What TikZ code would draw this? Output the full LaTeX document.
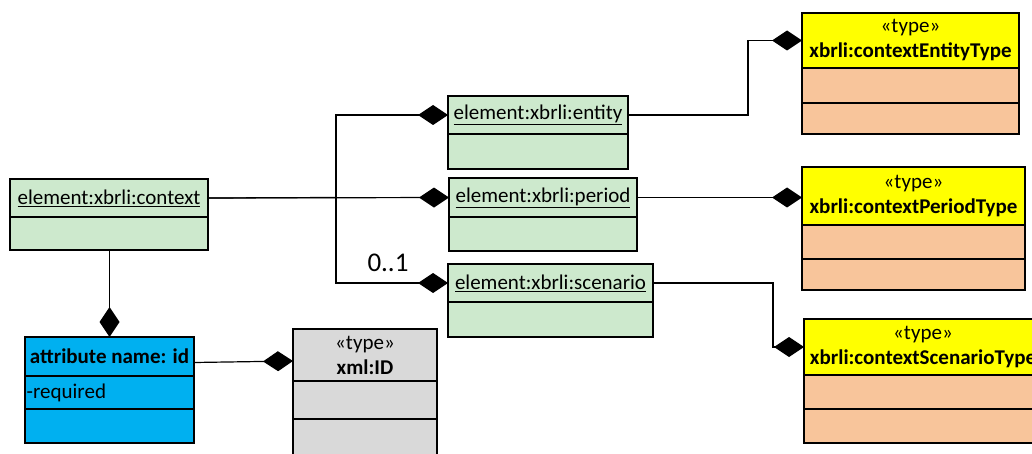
\documentclass[tikz,border=0pt]{standalone}
\usepackage{fontspec}
\setmainfont{Carlito}
\usetikzlibrary{arrows.meta}
\definecolor{elgreen}{HTML}{CDE9CD}
\definecolor{attrblue}{HTML}{00B0F0}
\definecolor{typegray}{HTML}{D9D9D9}
\definecolor{typeyellow}{HTML}{FFFF00}
\definecolor{typepeach}{HTML}{F8C59B}
\tikzset{
  cbox/.style={draw=black, line width=1.8pt, anchor=north west, outer sep=0pt, inner sep=0pt, font=\fontsize{21}{25}\selectfont, align=center},
  greenc/.style={cbox, fill=elgreen},
  bluec/.style={cbox, fill=attrblue},
  grayc/.style={cbox, fill=typegray},
  yellowc/.style={cbox, fill=typeyellow},
  peachc/.style={cbox, fill=typepeach},
  comp/.style={draw=black, line width=1.2pt, -{Diamond[length=30pt,width=20pt]}},
  plain/.style={draw=black, line width=1.2pt},
}
\begin{document}
\begin{tikzpicture}[x=1pt,y=-1pt]
\useasboundingbox (0,0) rectangle (1032,454);
\clip (0,0) rectangle (1032,454);
% context
\node[greenc, minimum width=198pt, minimum height=38pt] (ctx) at (10,179) {\underline{element:xbrli:context}};
\node[greenc, minimum width=198pt, minimum height=33pt] (ctxb) at (ctx.south west) {};
% attribute
\node[bluec, minimum width=169pt, minimum height=39pt] (attr) at (25,337) {\textbf{attribute name: id}};
\node[bluec, minimum width=169pt, minimum height=33pt] (attr1) at (attr.south west) {};
\node[bluec, minimum width=169pt, minimum height=34pt] (attr2) at (attr1.south west) {};
\node[anchor=west, inner sep=0pt, font=\fontsize{21}{25}\selectfont] (attrtxt) at ([xshift=1.5pt]attr1.west) {-required};
% xml:ID
\node[grayc, minimum width=144pt, minimum height=52pt] (xid) at (293,329) {«type»\\\textbf{xml:ID}};
\node[grayc, minimum width=144pt, minimum height=38pt] (xid1) at (xid.south west) {};
\node[grayc, minimum width=144pt, minimum height=41pt] (xid2) at (xid1.south west) {};
% entity
\node[greenc, minimum width=180pt, minimum height=38pt] (ent) at (448,96) {\underline{element:xbrli:entity}};
\node[greenc, minimum width=180pt, minimum height=35pt] (entb) at (ent.south west) {};
% period
\node[greenc, minimum width=188pt, minimum height=39pt] (per) at (449,178) {\underline{element:xbrli:period}};
\node[greenc, minimum width=188pt, minimum height=34pt] (perb) at (per.south west) {};
% scenario
\node[greenc, minimum width=205pt, minimum height=38pt] (scn) at (448,264) {\underline{element:xbrli:scenario}};
\node[greenc, minimum width=205pt, minimum height=35pt] (scnb) at (scn.south west) {};
% entity type
\node[yellowc, minimum width=217pt, minimum height=55pt] (entT) at (802,13) {«type»\\\textbf{xbrli:contextEntityType}};
\node[peachc, minimum width=217pt, minimum height=35pt] (entT1) at (entT.south west) {};
\node[peachc, minimum width=217pt, minimum height=31pt] (entT2) at (entT1.south west) {};
% period type
\node[yellowc, minimum width=223pt, minimum height=58pt] (perT) at (802,167) {«type»\\\textbf{xbrli:contextPeriodType}};
\node[peachc, minimum width=223pt, minimum height=34pt] (perT1) at (perT.south west) {};
\node[peachc, minimum width=223pt, minimum height=31pt] (perT2) at (perT1.south west) {};
% scenario type
\node[yellowc, minimum width=238pt, minimum height=56pt] (scnT) at (804,319) {«type»\\\textbf{xbrli:contextScenarioType}};
\node[peachc, minimum width=238pt, minimum height=34pt] (scnT1) at (scnT.south west) {};
\node[peachc, minimum width=238pt, minimum height=34pt] (scnT2) at (scnT1.south west) {};
% connectors
\coordinate (j) at (336,197.5);
\draw[plain] (ctx.east) -- (j);
\draw[comp] (ctx.east) -- (per.west);
\draw[comp] (j) |- (ent.west);
\draw[comp] (j) |- (scn.west);
\node[font=\fontsize{27}{30}\selectfont, inner sep=0pt] (mult) at (388,263) {0..1};
\draw[comp] (attr.north |- ctxb.south) -- (attr.north);
\draw[comp] ([yshift=-6pt]attr.east) -- ([yshift=-6pt]xid.west);
\coordinate (ea) at (748,115);
\draw[comp] (ent.east) -- (ea) |- (entT.west);
\draw[comp] (per.east) -- (perT.west |- per.east);
\coordinate (sa) at (773,283);
\coordinate (sb) at (773,347);
\draw[comp] (scn.east) -- (sa) -- (sb) -- (scnT.west);
\end{tikzpicture}
\end{document}
